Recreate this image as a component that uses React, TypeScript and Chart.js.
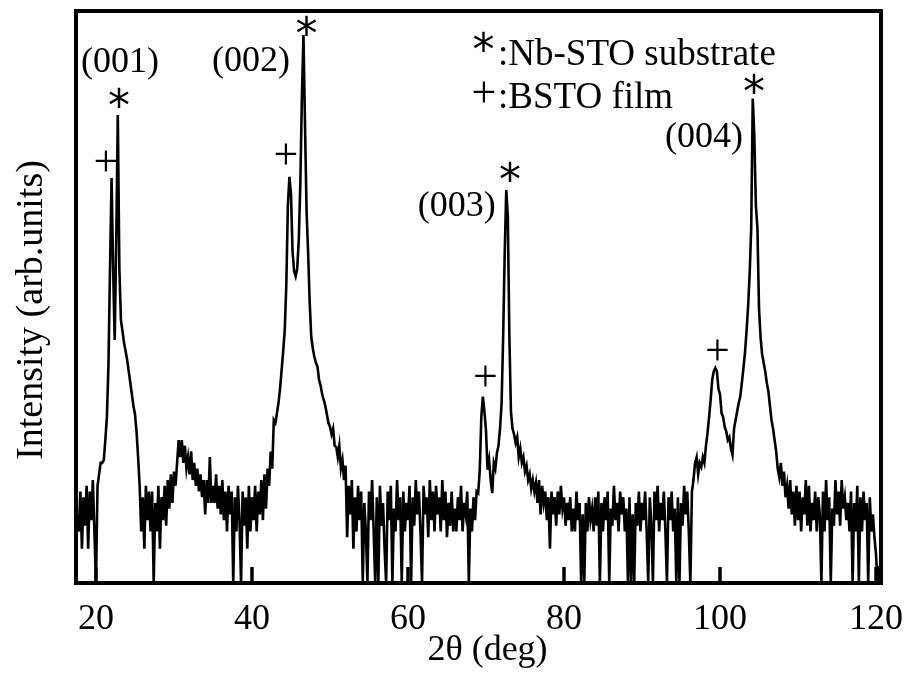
import React, { useEffect, useRef } from "react";
import { Chart, registerables } from "chart.js";

Chart.register(...registerables);

// Scan grid (degrees 2θ)
const scanStart = 17.6;
const scanStep = 0.2;

// Intensity (arb. units, 0–100), in 10° blocks
const i17to27 = [12,9,16,6,15,10,17,6,16,11, 18,9,0,17,19,21,21,21.5,25,29, 38,55,70.8,55,42.5,60,81.8,55,46,44, 42,40.5,39,37,35,33,31,29.5,26.5,22, 17,9,15,6,17,11,16,9,16,0];
const i27to37 = [14,9,17,6,15,11,17,10,18,13, 19,14,19.5,17,21,25,22,25,21,24, 20,22,19,23,18,21,17,20,16,19, 15,18,12,18,14,22,14,17,14,19, 13,17,12,18,11,16,9,17,12,16];
const i37to47 = [0,15,9,17,11,0,16,10,15,6, 17,9,15,11,17,9,16,12,18,11, 19,13,20,17,23,20,28.5,28,29.7,31.5, 34,37.2,40.5,44.2,52,66,71,68,58,54.5, 53.6,55,60,70,85,95.8,80,65,57.7,49];
const i47to57 = [43,41,39.5,38.5,37.8,35.5,34.5,33,32,31, 29.5,28,27.3,26,27,24,23.8,22,24,20, 21.5,18,20.5,8,17,12,18,6,15,9, 17,11,16,0,14,9,0,16,11,18, 9,0,15,0,17,10,14,6,0,16];
const i57to67 = [11,17,0,13,9,18,11,15,0,16, 9,14,11,17,0,15,10,18,12,16, 9,0,17,12,15,8,18,11,16,9, 17,12,15,9,18,11,16,8,14,10, 16,9,13,9,15,11,17,9,14,12];
const i67to77 = [16,0,13,9,15,11,16,15.7,19.7,29, 32.6,30,26.7,19.8,21.5,18,15.7,21,20,22.7, 24,27,31.4,43,57.7,68.7,64,43,30,27, 26,24.5,25.5,22,23.5,21,22,19.5,20.5,18, 19,16.5,18,16,17.5,14,18,12,17,14];
const i77to87 = [16,11,15,6,16,12,15,10,16,12, 17,13,15,10,14,11,15,9,13,9, 16,11,14,0,12,0,14,9,15,11, 13,9,15,10,16,0,14,9,15,11, 16,0,13,10,17,11,14,9,16,12];
const i87to97 = [15,9,13,0,15,0,12,0,14,10, 16,9,14,11,16,9,0,15,10,0, 16,11,17,9,14,11,16,9,0,15, 11,16,9,13,0,15,0,14,10,17, 12,16,9,0,16,18,21,22,19,21];
const i97to107 = [20.3,22,21,24,26.2,29,32,35.5,37,37.6, 37,34,33,29.7,29,27.3,26.5,25,25.5,23.5, 22.4,27,28.5,30,31.5,32.6,35,37.5,40.2,44, 48.3,54,62,84.7,78,66,62,48,43,40, 38.5,37,35,33.5,31,28.5,27,25,23,20];
const i107to117 = [18.5,21,17,19.5,15,17,13,18,12,16, 10,17,11,16,9,15,12,18,10,17, 9,14,11,16,9,15,12,0,16,9, 18,11,15,0,13,10,18,12,16,10, 18,13,15,11,14,9,16,0,14,9];
const i117to120 = [17,0,15,9,16,11,14,0,15,9,12,8,5,0,3];

const intensity = [
  ...i17to27, ...i27to37, ...i37to47, ...i47to57, ...i57to67,
  ...i67to77, ...i77to87, ...i87to97, ...i97to107, ...i107to117, ...i117to120,
];
const twoTheta = intensity.map((_, i) => Math.round((scanStart + i * scanStep) * 10) / 10);

const xTicks = [20, 40, 60, 80, 100, 120];
const xTitle = "2θ (deg)";
const yTitle = "Intensity (arb.units)";

// Peak labels (anchored in data coordinates: centre x, baseline y)
const peakLabels = [
  { text: "(001)", x: 23.08, y: 89.3 },
  { text: "(002)", x: 39.87, y: 89.5 },
  { text: "(003)", x: 66.24, y: 64.2 },
  { text: "(004)", x: 97.95, y: 76.2 },
];
// Substrate "*" marks and film "+" marks (ink centres, data coordinates)
const substrateMarks = [
  { x: 22.95, y: 84.8 },
  { x: 46.99, y: 97.55 },
  { x: 73.08, y: 72.0 },
  { x: 104.36, y: 87.4 },
];
const filmMarks = [
  { x: 21.28, y: 73.8 },
  { x: 44.36, y: 75.0 },
  { x: 69.94, y: 36.19 },
  { x: 99.68, y: 40.73 },
];
const keyEntries = [
  { mark: "*", text: ":Nb-STO substrate", markX: 69.68, markY: 94.67, x: 71.54, y: 90.56 },
  { mark: "+", text: ":BSTO film", markX: 69.74, markY: 85.84, x: 71.54, y: 83.04 },
];

const SERIF = '"Liberation Serif", "Times New Roman", serif';
const SANS = '"DejaVu Sans", "Liberation Sans", sans-serif';

function drawInkCentered(ctx: CanvasRenderingContext2D, text: string, cx: number, cy: number) {
  ctx.textAlign = "left";
  ctx.textBaseline = "alphabetic";
  const m = ctx.measureText(text);
  const x = cx - (m.actualBoundingBoxRight - m.actualBoundingBoxLeft) / 2;
  const y = cy + (m.actualBoundingBoxAscent - m.actualBoundingBoxDescent) / 2;
  ctx.fillText(text, x, y);
}

const decorPlugin = {
  id: "decor",
  afterDraw(chart: any) {
    const { ctx, chartArea } = chart;
    const xs = chart.scales.x;
    const ys = chart.scales.y;
    const { left, right, top, bottom } = chartArea;
    ctx.save();
    ctx.strokeStyle = "#000";
    ctx.fillStyle = "#000";
    // frame
    ctx.lineWidth = 4;
    ctx.strokeRect(left, top, right - left, bottom - top);
    // inward tick marks
    ctx.lineWidth = 3.5;
    ctx.beginPath();
    for (const v of xTicks) {
      const px = xs.getPixelForValue(v);
      ctx.moveTo(px, bottom);
      ctx.lineTo(px, bottom - 16);
    }
    ctx.stroke();

    // axis titles
    ctx.font = `36px ${SERIF}`;
    ctx.textAlign = "center";
    ctx.textBaseline = "alphabetic";
    ctx.fillText(xTitle, (left + right) / 2 + 9, bottom + 77);
    ctx.save();
    ctx.font = `38px ${SERIF}`;
    ctx.translate(left - 34, (top + bottom) / 2 + 13);
    ctx.rotate(-Math.PI / 2);
    ctx.fillText(yTitle, 0, 0);
    ctx.restore();

    // peak labels
    ctx.font = `36px ${SERIF}`;
    ctx.textAlign = "center";
    for (const p of peakLabels) {
      ctx.fillText(p.text, xs.getPixelForValue(p.x), ys.getPixelForValue(p.y));
    }
    // marks
    ctx.font = `44px ${SANS}`;
    for (const m of substrateMarks) {
      drawInkCentered(ctx, "*", xs.getPixelForValue(m.x), ys.getPixelForValue(m.y));
    }
    ctx.font = `44px ${SERIF}`;
    for (const m of filmMarks) {
      drawInkCentered(ctx, "+", xs.getPixelForValue(m.x), ys.getPixelForValue(m.y));
    }
    // key
    for (const k of keyEntries) {
      ctx.font = k.mark === "*" ? `44px ${SANS}` : `44px ${SERIF}`;
      drawInkCentered(ctx, k.mark, xs.getPixelForValue(k.markX), ys.getPixelForValue(k.markY));
      ctx.font = `37px ${SERIF}`;
      ctx.textAlign = "left";
      ctx.textBaseline = "alphabetic";
      ctx.fillText(k.text, xs.getPixelForValue(k.x), ys.getPixelForValue(k.y));
    }
    ctx.restore();
  },
};

export default function App() {
  const canvasRef = useRef<HTMLCanvasElement | null>(null);

  useEffect(() => {
    const canvas = canvasRef.current;
    if (!canvas) return;
    const chart = new Chart(canvas, {
      type: "line",
      data: {
        datasets: [
          {
            data: twoTheta.map((x, i) => ({ x, y: intensity[i] })),
            borderColor: "#000",
            borderWidth: 2.6,
            pointRadius: 0,
            tension: 0,
            fill: false,
          },
        ],
      },
      options: {
        animation: false,
        responsive: false,
        devicePixelRatio: 1,
        layout: { padding: { left: 76, top: 11, right: 39, bottom: 0 } },
        plugins: { legend: { display: false }, tooltip: { enabled: false } },
        scales: {
          x: {
            type: "linear",
            min: 17.44,
            max: 120.64,
            grid: { display: false, drawTicks: false },
            border: { display: false },
            afterBuildTicks: (scale: any) => {
              scale.ticks = xTicks.map((v) => ({ value: v }));
            },
            afterFit: (scale: any) => {
              scale.height = 96;
            },
            ticks: {
              autoSkip: false,
              maxRotation: 0,
              padding: 15,
              color: "#000",
              font: { family: SERIF, size: 36 },
              callback: (v: any) => String(v),
            },
          },
          y: {
            type: "linear",
            display: false,
            min: 0,
            max: 100,
          },
        },
      },
      plugins: [decorPlugin],
    });
    return () => chart.destroy();
  }, []);

  return (
    <div style={{ position: "absolute", left: 0, top: 0, width: 920, height: 679, background: "#fff" }}>
      <canvas ref={canvasRef} width={920} height={679} style={{ display: "block" }} />
    </div>
  );
}
